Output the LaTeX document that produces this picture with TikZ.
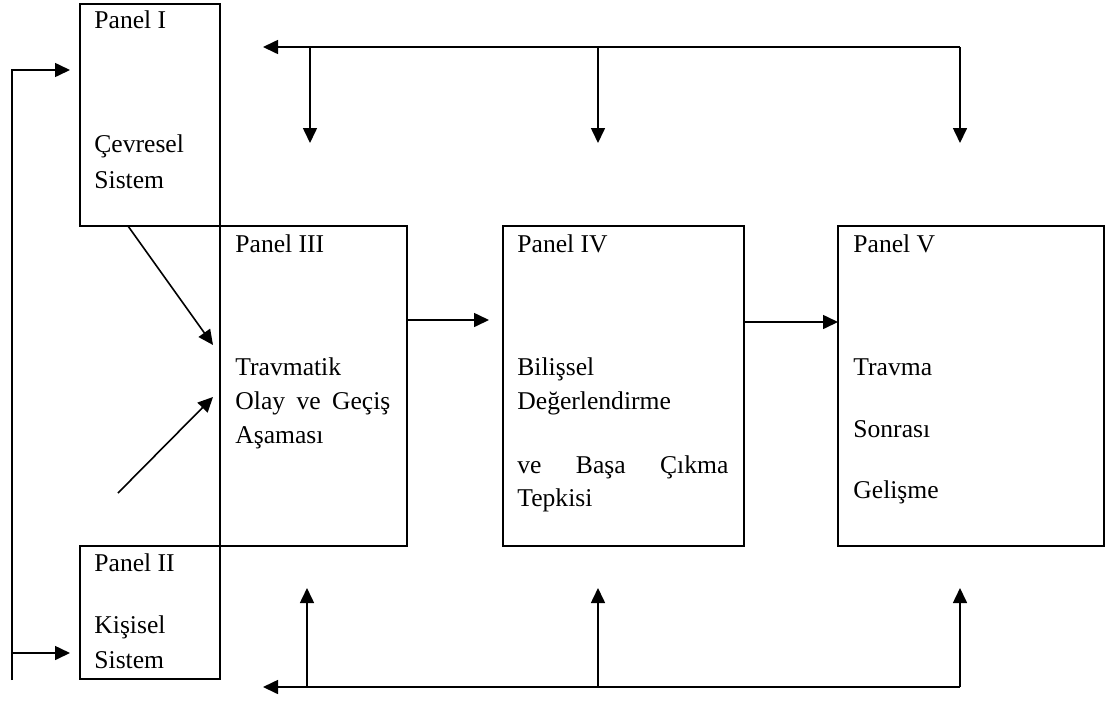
\documentclass[tikz,border=0pt]{standalone}
\usepackage{fontspec}
\setmainfont{Liberation Serif}
\usetikzlibrary{arrows.meta}

\tikzset{
  panel/.style={draw, line width=1.2pt, inner sep=0pt, outer sep=0pt},
  paneltext/.style={anchor=base west, inner sep=0pt, font=\fontsize{12.8}{15}\selectfont},
  arrow/.style={line width=0.8pt, -{Triangle[length=7.5pt,width=7pt]}},
}

\newcommand{\PanelBox}[5]{% name, x, y, w, h
  \node[panel, anchor=north west, minimum width={(#4)*0.5pt}, minimum height={(#5)*0.5pt}] (#1) at (#2,#3) {};
}
\newcommand{\PanelText}[4]{% name, x, y, text
  \node[paneltext] (#1) at (#2,#3) {#4};
}

\begin{document}
\begin{tikzpicture}[x=0.5pt,y=-0.5pt]
  \useasboundingbox (0,0) rectangle (1107,702);
  %
  \PanelBox{p1}{80}{4}{140}{222}
  \PanelBox{p2}{80}{546}{140}{133}
  \PanelBox{p3}{220}{226}{187}{320}
  \PanelBox{p4}{503}{226}{241}{320}
  \PanelBox{p5}{838}{226}{266}{320}
  %
  \PanelText{t1}{94}{28}{Panel I}
  \PanelText{t1a}{94}{152}{Çevresel}
  \PanelText{t1b}{94}{188}{Sistem}
  \PanelText{t2}{94}{571}{Panel II}
  \PanelText{t2a}{94}{633}{Kişisel}
  \PanelText{t2b}{94}{668}{Sistem}
  \PanelText{t3}{235}{252}{Panel III}
  \PanelText{t3a}{235}{375}{Travmatik}
  \PanelText{t3b}{235}{409}{\makebox[77.5pt][s]{Olay ve Geçiş}}
  \PanelText{t3c}{235}{443}{Aşaması}
  \PanelText{t4}{517}{252}{Panel IV}
  \PanelText{t4a}{517}{375}{Bilişsel}
  \PanelText{t4b}{517}{409}{Değerlendirme}
  \PanelText{t4c}{517}{473}{\makebox[105.5pt][s]{ve Başa Çıkma}}
  \PanelText{t4d}{517}{506}{Tepkisi}
  \PanelText{t5}{853}{252}{Panel V}
  \PanelText{t5a}{853}{375}{Travma}
  \PanelText{t5b}{853}{437}{Sonrası}
  \PanelText{t5c}{853}{498}{Gelişme}
  %
  \coordinate (loopB) at (12,680);
  \coordinate (e1) at (70,70);
  \coordinate (e2) at (70,653);
  \draw[arrow] (loopB) |- (e1);
  \draw[arrow] (loopB |- e2) -- (e2);
  %
  \coordinate (d1) at (213,345);
  \coordinate (d2s) at (118,493);
  \coordinate (d2) at (213,397);
  \draw[arrow] ([xshift=24pt]p1.south west) -- (d1);
  \draw[arrow] (d2s) -- (d2);
  %
  \coordinate (a34) at (489,320);
  \coordinate (a45) at (838,322);
  \draw[arrow] (p3.east |- a34) -- (a34);
  \draw[arrow] (p4.east |- a45) -- (p5.west |- a45);
  %
  \coordinate (topR) at (960,47);
  \coordinate (topL) at (263,47);
  \draw[arrow] (topR) -- (topL);
  \foreach \x/\n in {310/3,598/4,960/5}{
    \coordinate (in\n) at (\x,143);
    \draw[arrow] (in\n |- topR) -- (in\n);
  }
  %
  \coordinate (botR) at (960,687);
  \coordinate (botL) at (263,687);
  \draw[arrow] (botR) -- (botL);
  \foreach \x/\n in {307/3,598/4,960/5}{
    \coordinate (out\n) at (\x,588);
    \draw[arrow] (out\n |- botR) -- (out\n);
  }
\end{tikzpicture}
\end{document}
